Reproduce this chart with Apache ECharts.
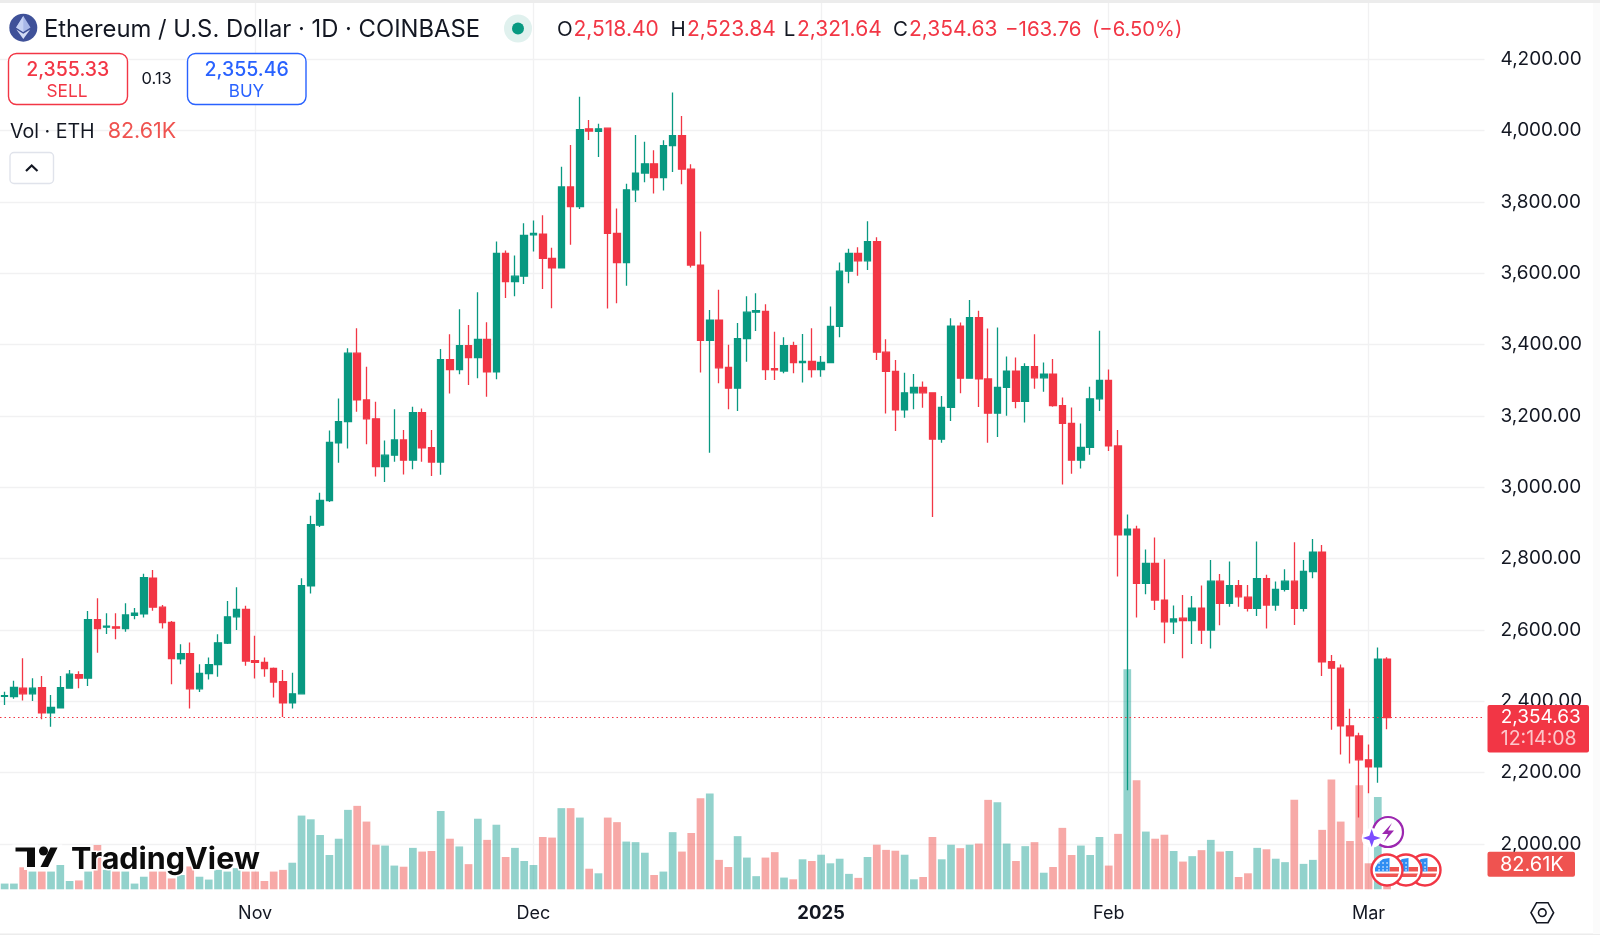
<!DOCTYPE html>
<html><head><meta charset="utf-8">
<style>html,body{margin:0;padding:0;background:#fff;width:100%;height:100%;overflow:hidden}#c{width:1600px;height:935px}</style>
<script src="https://cdn.jsdelivr.net/npm/echarts@6/dist/echarts.min.js"></script>
</head><body><div id="c"></div>
<script>
const monthDays = [['2024-10',5,31],['2024-11',1,30],['2024-12',1,31],['2025-01',1,31],['2025-02',1,28],['2025-03',1,3]];
const tickLabels = {'2024-11-01':'Nov','2024-12-01':'Dec','2025-01-01':'2025','2025-02-01':'Feb','2025-03-01':'Mar'};
const opens = [2414,2413,2437,2421,2438,2368,2382,2437,2475,2465,2629,2608,2609,2604,2641,2645,2745,2664,2621,2519,2534,2435,2478,2503,2563,2637,2658,2514,2509,2492,2455,2396,2421,2724,2894,2963,3125,3184,3376,3245,3192,3058,3090,3133,3076,3209,3111,3071,3358,3330,3397,3364,3415,3324,3656,3577,3592,3708,3710,3642,3615,3842,3787,4005,3998,4007,3712,3630,3834,3881,3907,3868,3958,3986,3892,3623,3412,3469,3336,3278,3417,3491,3493,3333,3326,3397,3350,3353,3330,3350,3451,3606,3656,3635,3689,3379,3325,3217,3265,3280,3265,3135,3224,3452,3306,3476,3304,3208,3280,3326,3241,3338,3307,3317,3229,3179,3076,3112,3248,3300,3116,2867,2883,2731,2787,2684,2623,2633,2626,2661,2600,2737,2675,2724,2692,2661,2744,2670,2714,2737,2661,2764,2818,2511,2493,2331,2303,2236,2216,2518.40];
const highs = [2427,2458,2521,2465,2471,2418,2471,2488,2484,2653,2689,2647,2647,2675,2662,2758,2768,2670,2625,2560,2565,2504,2523,2588,2681,2720,2668,2584,2523,2495,2488,2480,2745,2920,2985,3159,3249,3390,3446,3338,3240,3131,3219,3161,3226,3221,3161,3388,3429,3499,3455,3547,3463,3689,3664,3650,3740,3748,3763,3672,3899,3960,4095,4030,4019,4007,3782,3851,3988,3969,3945,3973,4107,4041,3906,3717,3497,3554,3400,3461,3536,3544,3513,3436,3421,3408,3430,3446,3368,3507,3630,3669,3673,3746,3701,3415,3357,3321,3318,3297,3265,3256,3474,3462,3525,3495,3445,3448,3367,3364,3348,3429,3350,3360,3252,3224,3179,3282,3439,3330,3161,2924,2892,2826,2859,2798,2669,2698,2695,2725,2796,2757,2792,2740,2726,2848,2755,2736,2770,2846,2796,2855,2838,2530,2503,2379,2312,2279,2551,2523.84];
const lows = [2390,2407,2402,2401,2350,2329,2380,2435,2437,2443,2536,2589,2574,2595,2630,2635,2654,2604,2448,2504,2380,2426,2461,2469,2561,2600,2500,2464,2469,2411,2356,2380,2419,2702,2889,2959,3069,3109,3212,3121,3030,3015,3072,3036,3051,3072,3032,3035,3263,3317,3287,3306,3254,3303,3531,3536,3570,3661,3556,3502,3615,3680,3780,3974,3926,3501,3516,3565,3800,3855,3824,3832,3884,3850,3616,3322,3097,3292,3219,3214,3352,3438,3301,3301,3320,3320,3294,3308,3310,3348,3421,3572,3593,3609,3357,3207,3158,3195,3219,3223,2917,3125,3186,3264,3306,3225,3125,3141,3201,3222,3182,3276,3268,3226,3008,3038,3053,3091,3214,3102,2750,2151,2635,2700,2656,2563,2589,2521,2561,2561,2548,2613,2665,2665,2652,2639,2604,2654,2708,2614,2652,2745,2471,2320,2251,2226,2074,2142,2172,2321.64];
const closes = [2416,2439,2421,2437,2368,2383,2438,2476,2465,2629,2604,2611,2605,2642,2647,2747,2664,2621,2520,2534,2435,2478,2503,2564,2637,2658,2513,2509,2492,2454,2396,2421,2724,2895,2963,3126,3184,3376,3245,3192,3058,3090,3133,3076,3209,3111,3071,3358,3330,3397,3364,3415,3324,3656,3577,3592,3706,3712,3642,3615,3842,3787,4003,3999,4005,3712,3630,3834,3881,3907,3868,3958,3986,3892,3623,3412,3469,3335,3278,3417,3491,3495,3330,3329,3397,3350,3353,3330,3350,3451,3606,3656,3635,3689,3379,3325,3217,3265,3280,3265,3135,3224,3452,3306,3476,3304,3208,3280,3326,3241,3338,3307,3317,3229,3179,3076,3112,3248,3300,3116,2867,2883,2731,2787,2684,2623,2631,2626,2661,2600,2737,2675,2724,2693,2661,2744,2670,2714,2737,2661,2764,2818,2511,2493,2331,2303,2236,2216,2518,2354.63];
const volumes = [20,20,77,62,62,62,85,29,31,62,155,68,62,62,20,44,62,62,38,50,80,44,34,68,62,74,62,62,29,62,68,93,258,245,190,120,177,278,292,237,156,153,83,79,145,132,134,274,177,150,88,247,173,226,113,145,99,85,183,181,284,284,251,72,56,251,235,167,165,128,50,62,200,132,197,319,335,103,78,186,111,46,111,130,41,35,105,99,121,91,107,54,40,113,156,138,135,121,35,43,183,105,156,144,156,160,313,305,160,99,151,165,58,78,215,120,153,120,183,83,194,770,382,202,177,191,134,97,116,137,173,132,134,43,56,145,140,107,95,313,89,103,208,384,237,169,364,91,323,82.61];
const lastPrice = 2354.63;
const priceTicks = {min:2000,max:4200,step:200};
const volumeMax = 3102;
const emptyBarsRight = 10;

const UP='#089981', DOWN='#F23645', VUP='rgba(38,166,154,0.5)', VDOWN='rgba(239,83,80,0.5)', INK='#131722', FONT='Inter, "Noto Sans", sans-serif';

const categories=[];
monthDays.forEach(([m,a,b])=>{for(let d=a;d<=b;d++)categories.push(m+'-'+String(d).padStart(2,'0'));});
for(let i=0;i<emptyBarsRight;i++)categories.push('pad'+i);

const candleData=opens.map((o,i)=>[o,closes[i],lows[i],highs[i]]);
const volumeData=volumes.map((v,i)=>({value:v,itemStyle:{color:closes[i]>=opens[i]?VUP:VDOWN}}));
const isTick=(idx,val)=>Object.prototype.hasOwnProperty.call(tickLabels,val);
const money=v=>v.toLocaleString('en-US',{minimumFractionDigits:2,maximumFractionDigits:2});

const T=(text,x,y,size,fill,opt={})=>({type:'text',x,y,z:opt.z||50,style:{text,fill,font:`${opt.weight||400} ${size}px ${FONT}`,align:opt.align||'left',verticalAlign:'middle',stroke:opt.stroke,lineWidth:opt.lw||0}});
const R=(x,y,w,h,r,fill,stroke,lw,z)=>({type:'rect',z:z||50,shape:{x,y,width:w,height:h,r},style:{fill:fill||'none',stroke:stroke||'none',lineWidth:lw||0}});
const C=(cx,cy,r,fill,stroke,lw,z)=>({type:'circle',z:z||50,shape:{cx,cy,r},style:{fill:fill||'none',stroke:stroke||'none',lineWidth:lw||0}});
const P=(points,fill,z,stroke,lw)=>({type:'polygon',z:z||50,shape:{points},style:{fill,stroke:stroke||'none',lineWidth:lw||0}});
const L=(points,stroke,lw,z)=>({type:'polyline',z:z||50,shape:{points},style:{fill:'none',stroke,lineWidth:lw}});

function flag(cx,cy,z){
  const els=[
    C(cx,cy,15.5,'#fff',DOWN,2.4,z),
    P([[cx-11.8,cy+3.5],[cx+11.8,cy+3.5],[cx+10.3,cy+7],[cx-10.3,cy+7]],'#EF5350',z+1),
    R(cx+2.5,cy-3,9.5,4.5,0,'#EF5350',null,0,z+1),
    P([[cx-12,cy+1.5],[cx+2.5,cy+1.5],[cx+2.5,cy-12],[cx-4,cy-11],[cx-9,cy-7],[cx-12,cy-2]],'#2F8DF2',z+2)
  ];
  [-8,-4,0].forEach(dx=>[-7,-3,0].forEach(dy=>els.push(R(cx+dx-0.7,cy+dy-0.7,1.5,1.5,0,'#d7e9fd',null,0,z+3))));
  return els;
}

const graphics=[
  R(0,0,1600,3,0,'#ececec'),
  R(0,933.5,1600,1.5,0,'#ececec'),
  R(1593,3,7,931,0,'#fbfbfb'),
  // header
  C(23.3,27.7,14,'#3F5199'),
  P([[23.3,16],[30.5,27.5],[23.3,32],[16.1,27.5]],'#a9b8e8',51),
  P([[23.3,33.8],[30.2,29.4],[23.3,39],[16.4,29.4]],'#d4dcf5',51),
  P([[23.3,16],[23.3,32],[16.1,27.5]],'#c6d2f4',52),
  T('Ethereum / U.S. Dollar · 1D · COINBASE',44,29.5,23.8,INK),
  C(518,28.5,14,'#e0f1ee'),
  C(518,28.5,6,UP,null,0,51),
  T('O',557,29.5,20.5,INK),T('2,518.40',573.5,29.5,21,DOWN),
  T('H',670.5,29.5,20.5,INK),T('2,523.84',687,29.5,21,DOWN),
  T('L',783.7,29.5,20.5,INK),T('2,321.64',797,29.5,21,DOWN),
  T('C',893,29.5,20.5,INK),T('2,354.63',909,29.5,21,DOWN),
  T('−163.76',1005,29.5,20.5,DOWN),T('(−6.50%)',1092,29.5,20.2,DOWN),
  // sell / buy
  R(8.5,53.5,119,51,8,'#fff',DOWN,1.4),
  T('2,355.33',67.7,70.3,19.5,DOWN,{align:'center',weight:500}),
  T('SELL',67,92.2,17.3,DOWN,{align:'center'}),
  T('0.13',156.7,79.5,16.5,INK,{align:'center'}),
  R(187.5,53.5,118.5,51,8,'#fff','#2962FF',1.4),
  T('2,355.46',246.7,70.3,19.5,'#2962FF',{align:'center',weight:500}),
  T('BUY',246.5,92.2,17,'#2962FF',{align:'center'}),
  T('Vol · ETH',10,132,19.6,INK),
  T('82.61K',107.7,132,21.5,'#EF5350'),
  R(10,152.5,43.5,31,4,'#fff','#e0e3eb',1.4),
  L([[26,171],[31.7,165.5],[37.5,171]],INK,2.2),
  // price tags
  R(1487.5,705,101.5,47.5,2,DOWN,null,0,60),
  T('2,354.63',1500.7,717.5,19,'#fff',{z:61}),
  T('12:14:08',1500.7,739,19.5,'rgba(255,255,255,0.72)',{z:61}),
  R(1487.5,851.7,87.5,25,2,'#EF5350',null,0,60),
  T('82.61K',1500,865,20,'#fff',{z:61}),
  // settings icon
  P([[1531,912.7],[1536.6,902.7],[1548,902.7],[1553.6,912.7],[1548,922.7],[1536.6,922.7]],'#fff',50,INK,1.6),
  C(1542.3,912.7,3.8,'#fff',INK,1.6,51),
  // events
  C(1388,832,15,'#fff','#9C27B0',2.2,70),
  P([[1392,823],[1382,834],[1388,834],[1384,842],[1394,830.5],[1388,830.5]],'#9C27B0',71),
  C(1371.7,838,10,'#fff',null,0,71),
  P([[1371.7,829],[1374,835.7],[1380.7,838],[1374,840.3],[1371.7,847],[1369.4,840.3],[1362.7,838],[1369.4,835.7]],'#7C4DFF',72),
  ...flag(1425,870,74),...flag(1406,870,78),...flag(1387,870,82),
  // logo
  P([[14,846],[36.5,846],[36.5,868.5],[25.5,868.5],[25.5,853],[14,853]],'#0c0c0c',90,'#fff',3),
  C(43.5,851,4.5,'#0c0c0c',null,0,91),
  P([[49.5,846],[60,846],[49,868.5],[38,868.5]],'#0c0c0c',90,'#fff',3),
  T('TradingView',71,860,30.5,'#0c0c0c',{weight:700,z:91,stroke:'#fff',lw:3})
];

const chart=echarts.init(document.getElementById('c'),null,{renderer:'canvas',width:1600,height:935});
const gridLeft=-2.4,gridWidth=1486.9;
chart.setOption({
  animation:false,backgroundColor:'#fff',
  grid:[
    {left:gridLeft,width:gridWidth,top:59.3,height:784.7},
    {left:gridLeft,width:gridWidth,top:3,height:886.3}
  ],
  xAxis:[
    {type:'category',gridIndex:0,data:categories,axisLine:{show:false},axisTick:{show:false},axisLabel:{show:false},splitLine:{show:false}},
    {type:'category',gridIndex:1,data:categories,axisLine:{show:false},axisTick:{show:false,alignWithLabel:true},
     axisLabel:{show:true,interval:isTick,margin:15,hideOverlap:false,fontFamily:FONT,fontSize:18,color:INK,
       formatter:v=>{const t=tickLabels[v];return t==='2025'?'{b|2025}':t;},rich:{b:{fontWeight:700,fontFamily:FONT,fontSize:18.5,color:INK}}},
     splitLine:{show:true,interval:isTick,alignWithLabel:true,lineStyle:{color:'#f1f1f2',width:1.3}}}
  ],
  yAxis:[
    {type:'value',gridIndex:0,position:'right',min:priceTicks.min,max:priceTicks.max,interval:priceTicks.step,scale:false,
     axisLine:{show:false},axisTick:{show:false},
     axisLabel:{margin:16,fontFamily:FONT,fontSize:19,color:INK,formatter:money},
     splitLine:{show:true,lineStyle:{color:'#f1f1f2',width:1.3}}},
    {type:'value',gridIndex:1,min:0,max:volumeMax,show:false,splitLine:{show:false}}
  ],
  series:[
    {type:'bar',name:'Vol',xAxisIndex:1,yAxisIndex:1,data:volumeData,barWidth:7.7,z:2},
    {type:'candlestick',name:'ETHUSD',xAxisIndex:0,yAxisIndex:0,data:candleData,barWidth:7,z:3,clip:false,
     itemStyle:{color:UP,color0:DOWN,borderColor:UP,borderColor0:DOWN,borderWidth:1.3},
     markLine:{silent:true,symbol:'none',label:{show:false},
       lineStyle:{color:DOWN,type:[1.5,3],width:1.1},data:[{yAxis:lastPrice}]}}
  ],
  graphic:{elements:graphics}
});
</script></body></html>
